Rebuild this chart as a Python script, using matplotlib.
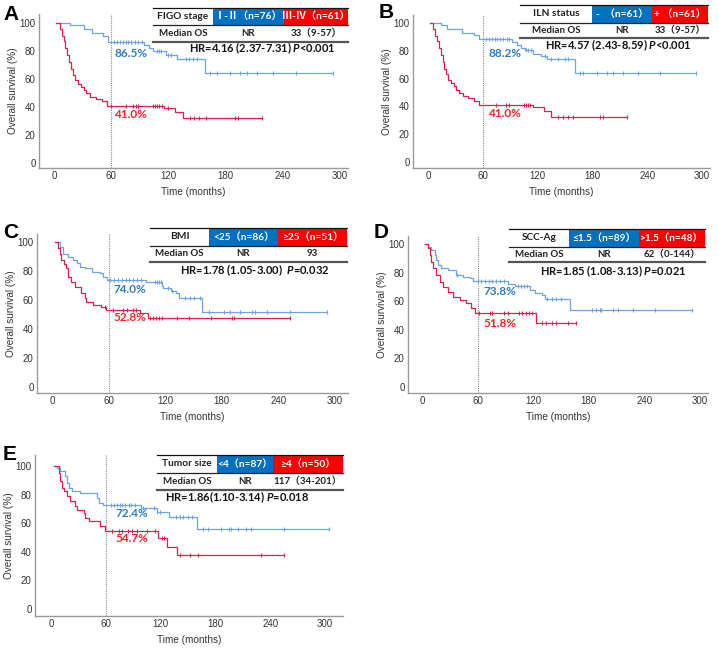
import numpy as np
import matplotlib
matplotlib.use('Agg')
import matplotlib.pyplot as plt
from matplotlib.patches import Rectangle
from matplotlib.lines import Line2D

plt.rcParams['font.family'] = ['Liberation Sans', 'DejaVu Sans']
plt.rcParams['mathtext.fontset'] = 'custom'
plt.rcParams['mathtext.it'] = 'Lato:italic:bold'
plt.rcParams['mathtext.rm'] = 'Lato:bold'

W, H = 719, 649
BLUE_LINE = '#6ea3e6'
RED_LINE = '#e3204c'
BLUE_CELL = '#0070c0'
RED_CELL = '#ff0000'
BLUE_TXT = '#2a7cc7'
RED_TXT = '#ff2020'
TAB_FONT = ['Lato', 'Noto Sans CJK SC', 'DejaVu Sans']

## Data
# A: FIGO stage
a_blue_t = [2, 17, 31, 39.5, 51, 57, 94, 100, 104, 118, 129, 158]
a_blue_s = [100, 98.6, 95.5, 93, 91, 86.5, 84.5, 82, 80, 77.5, 74, 64]
a_blue_end = 293
a_blue_cens = [63, 66, 69, 72, 75, 78, 81, 85, 88, 92, 108, 110, 112, 120, 123,
               138, 142, 146, 150, 164, 171, 185, 195, 202, 213, 230, 254, 293]
a_red_t = [2, 6, 8, 10, 12, 14, 16, 18, 20, 22, 25, 28, 31, 34, 38, 44, 50, 56, 115, 127, 135]
a_red_s = [100, 96, 91, 87, 82, 77, 72, 67, 63, 59, 56.5, 54.5, 52, 50, 47.5, 46, 44, 41, 39.5, 36.5, 32.5]
a_red_end = 218
a_red_cens = [60, 76, 83, 86, 88, 104, 106, 108, 110, 113, 120, 143, 147, 152, 159, 190, 193, 218]

# B: ILN status
b_blue_t = [2, 14, 21, 37.5, 50, 56, 92, 97, 101.5, 106, 115, 124, 130, 161]
b_blue_s = [100, 98.6, 96, 92.6, 91.5, 88.2, 86, 84, 82, 80.5, 78, 76, 74, 64]
b_blue_end = 293
b_blue_cens = [64, 67, 70, 73, 76, 79, 82, 86, 89, 107, 110, 113, 128, 135, 142, 150, 153,
               166, 170, 185, 196, 203, 214, 230, 254, 293]
b_red_t = [2, 6, 8, 10, 12, 14, 16, 18, 20, 22, 25, 28, 31, 34, 38, 44, 50, 56, 115, 127, 135]
b_red_s = [100, 96, 91, 87, 82, 77, 72, 67, 63, 59, 56.5, 54.5, 52, 50, 47.5, 46, 44, 41, 39.5, 36.5, 32.5]
b_red_end = 218
b_red_cens = [74, 85, 89, 105, 107, 109, 112, 142, 148, 153, 159, 188, 192, 218]

# C: BMI
c_blue_t = [3, 8, 11.7, 17, 22, 26, 29.5, 35, 42, 50.5, 54, 58, 100, 117, 118, 126, 131, 135, 159]
c_blue_s = [100, 96.8, 92, 90, 87.6, 85.3, 83, 81.8, 79.5, 78.4, 76, 74, 72.5, 70, 68, 66.5, 64.5, 61.5, 51.5]
c_blue_end = 291
c_blue_cens = [62, 66, 70, 74, 78, 82, 86, 90, 94, 109, 111, 113, 116, 123, 127, 141, 146, 151, 157,
               166, 182, 189, 199, 212, 215, 228, 252, 291]
c_red_t = [3, 6.4, 8, 10, 13, 15, 17, 20.5, 24, 31, 34.6, 36.4, 43.5, 52, 57.6, 93, 102]
c_red_s = [100, 95.6, 92, 87.6, 84.5, 81.8, 76, 72.6, 69, 64.6, 61.2, 58.8, 56.6, 55.4, 52.8, 50.8, 47.5]
c_red_end = 252
c_red_cens = [56, 65, 75, 79, 86, 89, 104, 107, 110, 113, 117, 132, 145, 169, 191, 193, 252]

# D: SCC-Ag
d_blue_t = [3, 6.5, 10, 13.7, 15.5, 17, 20.8, 28, 37, 44, 51.5, 55, 93, 100, 117, 122, 129, 133, 160]
d_blue_s = [100, 98, 95.8, 92.3, 88.8, 85.3, 83, 81.8, 78.3, 77.1, 76, 73.8, 72, 70.3, 67.5, 66, 64, 61.5, 54]
d_blue_end = 291
d_blue_cens = [38, 60, 64, 68, 72, 76, 80, 84, 88, 104, 107, 110, 113, 135, 140, 145, 150,
               183, 188, 192, 193, 206, 211, 228, 251, 291]
d_red_t = [3, 6.5, 8.3, 10, 11.9, 15.5, 19, 22.6, 28, 33.4, 40.6, 47.8, 53.2, 56.8, 123]
d_red_s = [100, 97, 92.3, 87.6, 83, 78.3, 73.6, 70.1, 66.6, 63.1, 60.8, 58.5, 55, 51.8, 44.5]
d_red_end = 166
d_red_cens = [62, 73, 75, 89, 93, 105, 108, 112, 116, 119, 129, 134, 140, 145, 158, 166]

# E: Tumor size
e_blue_t = [3, 6.6, 10, 15.7, 17.5, 19.4, 23, 32, 50, 53, 57, 98, 116, 129, 160]
e_blue_s = [100, 98.6, 96.3, 92.8, 88, 84.6, 82.3, 81.1, 77.6, 74, 72.4, 70.5, 67.5, 64.5, 55.7]
e_blue_end = 304
e_blue_cens = [66, 69, 72, 75, 78, 81, 85, 88, 92, 101, 113, 116, 119, 137, 141, 145, 150, 154,
               166, 172, 186, 195, 197, 205, 214, 219, 255, 304]
e_red_t = [3, 8.4, 10, 12, 14, 17.5, 21, 26.6, 28.4, 35.7, 37.5, 41.3, 54, 59.5, 117.6, 127, 138]
e_red_s = [100, 95, 89.3, 84.6, 82.3, 78.8, 75.3, 71.8, 69.4, 67.1, 63.6, 61.3, 57.8, 54.7, 50, 43.7, 37.8]
e_red_end = 255
e_red_cens = [67, 74.5, 78, 84, 89, 94, 105, 114, 121, 124, 141, 152, 161, 230, 255]

# table texts
letters = ['A', 'B', 'C', 'D', 'E']
tab_head = [['FIGO stage', 'Ⅰ-Ⅱ（n=76）', 'Ⅲ-Ⅳ（n=61）'],
            ['ILN status', '-  （n=61）', '+ （n=61）'],
            ['BMI', '<25（n=86）', '≥25（n=51）'],
            ['SCC-Ag', '≤1.5（n=89）', '>1.5（n=48）'],
            ['Tumor size', '<4（n=87）', '≥4（n=50）']]
tab_os = [['Median OS', 'NR', '33（9-57）'],
          ['Median OS', 'NR', '33（9-57）'],
          ['Median OS', 'NR', '93'],
          ['Median OS', 'NR', '62（0-144）'],
          ['Median OS', 'NR', '117（34-201）']]
hr_text = ['HR=4.16 (2.37-7.31) $P$<0.001',
           'HR=4.57 (2.43-8.59) $P$<0.001',
           'HR=1.78 (1.05-3.00)  $P$=0.032',
           'HR=1.85 (1.08-3.13) $P$=0.021',
           'HR=1.86(1.10-3.14) $P$=0.018']
pct_blue = ['86.5%', '88.2%', '74.0%', '73.8%', '72.4%']
pct_red = ['41.0%', '41.0%', '52.8%', '51.8%', '54.7%']

#-----------------------------------------------------------------------
## Layout (pixels in the 719x649 picture)
# left, right, top, bottom, x(0), x(300), y(100), y(0)
ax_px = [(39, 348, 14, 168, 54, 340, 23, 163),
         (413, 710, 15, 168, 428, 702, 23, 162),
         (37, 348, 234, 393, 52, 335, 242, 387),
         (408, 708, 236, 393, 422, 700, 244, 387),
         (35, 343, 455, 616, 51, 325, 466, 609)]
# left, col1, col2, right, top, mid, bottom
tab_px = [(153, 213, 284, 348, 8, 25, 42),
          (520, 592, 652, 708, 5, 23, 38),
          (150, 209, 278, 347, 228, 246, 262),
          (509, 569, 639, 705, 229, 247, 262),
          (157, 217, 273, 343, 455, 473, 490)]
hr_px = [(262, 48), (618, 45), (255, 270), (613, 271), (237, 497)]
letter_px = [(3, 14), (379, 12), (3, 232), (374, 233), (3, 455)]
# label positions in data units
pct_pos = [((63, 78), (63, 35)), ((66, 78), (66, 35)), ((65, 67), (65, 47.6)),
           ((66, 67), (66, 44.7)), ((71, 67), (71, 49))]

curves = [(a_blue_t, a_blue_s, a_blue_end, a_blue_cens, a_red_t, a_red_s, a_red_end, a_red_cens),
          (b_blue_t, b_blue_s, b_blue_end, b_blue_cens, b_red_t, b_red_s, b_red_end, b_red_cens),
          (c_blue_t, c_blue_s, c_blue_end, c_blue_cens, c_red_t, c_red_s, c_red_end, c_red_cens),
          (d_blue_t, d_blue_s, d_blue_end, d_blue_cens, d_red_t, d_red_s, d_red_end, d_red_cens),
          (e_blue_t, e_blue_s, e_blue_end, e_blue_cens, e_red_t, e_red_s, e_red_end, e_red_cens)]


def fx(px):
    return px / W


def fy(py):
    return 1 - py / H


def km(ax, t, s, end, cens, color):
    t = np.asarray(t, float)
    s = np.asarray(s, float)
    ax.step(np.append(t, end), np.append(s, s[-1]), where='post', color=color, lw=0.9)
    idx = np.searchsorted(t, cens, side='right') - 1
    ax.plot(cens, s[idx], ls='none', marker='|', ms=3.5, mew=0.8, color=color)


def table(fig, box, head, row, hr, hrpos):
    l, c1, c2, r, top, mid, bot = box
    fig.add_artist(Rectangle((fx(c1), fy(mid)), fx(c2) - fx(c1), fy(top) - fy(mid),
                             color=BLUE_CELL, transform=fig.transFigure, lw=0))
    fig.add_artist(Rectangle((fx(c2), fy(mid)), fx(r) - fx(c2), fy(top) - fy(mid),
                             color=RED_CELL, transform=fig.transFigure, lw=0))
    fig.add_artist(Line2D([fx(l), fx(r)], [fy(top), fy(top)], color='#111', lw=0.9,
                          transform=fig.transFigure))
    fig.add_artist(Line2D([fx(l), fx(r)], [fy(mid), fy(mid)], color='#222', lw=0.9,
                          transform=fig.transFigure))
    fig.add_artist(Line2D([fx(l), fx(r)], [fy(bot), fy(bot)], color='#555', lw=1.6,
                          transform=fig.transFigure))
    cx = [(l + c1) / 2, (c1 + c2) / 2, (c2 + r) / 2]
    hy = fy((top + mid) / 2)
    ry = fy((mid + bot) / 2)
    cols = ['#222', 'white', 'white']
    for i in range(3):
        fig.text(fx(cx[i]), hy, head[i], ha='center', va='center', fontsize=7.3,
                 fontweight='bold', color=cols[i], family=TAB_FONT)
        fig.text(fx(cx[i]), ry, row[i], ha='center', va='center', fontsize=7,
                 fontweight='bold', color='#222', family=TAB_FONT)
    fig.text(fx(hrpos[0]), fy(hrpos[1]), hr, ha='center', va='center', fontsize=8,
             fontweight='bold', color='#111', family=TAB_FONT)


#-----------------------------------------------------------------------
## Plot
fig = plt.figure(figsize=(W / 100, H / 100), dpi=100)

for k in range(5):
    left, right, top, bot, x0, x300, y100, y0 = ax_px[k]
    sx = (x300 - x0) / 300.0
    sy = (y0 - y100) / 100.0
    ax = fig.add_axes([fx(left), fy(bot), (right - left) / W, (bot - top) / H])
    ax.set_xlim((left - x0) / sx, (right - x0) / sx)
    ax.set_ylim((y0 - bot) / sy, (y0 - top) / sy)
    for sp in ['top', 'right']:
        ax.spines[sp].set_visible(False)
    for sp in ['left', 'bottom']:
        ax.spines[sp].set_color('#9a9a9a')
        ax.spines[sp].set_linewidth(1.0)
    ax.set_xticks([0, 60, 120, 180, 240, 300])
    ax.set_yticks([0, 20, 40, 60, 80, 100])
    ax.tick_params(length=0, labelsize=7, colors='#333', pad=2.5)
    ax.set_xlabel('Time (months)', fontsize=7.2, color='#333', labelpad=4)
    ax.set_ylabel('Overall survival (%)', fontsize=7.2, color='#333', labelpad=1)
    ax.axvline(60, color='#8a8a8a', ls=(0, (1, 1)), lw=0.8)

    bt, bs, bend, bc, rt, rs, rend, rc = curves[k]
    km(ax, bt, bs, bend, bc, BLUE_LINE)
    km(ax, rt, rs, rend, rc, RED_LINE)

    (bx, by), (rx, ry) = pct_pos[k]
    ax.text(bx, by, pct_blue[k], color=BLUE_TXT, fontsize=8.5, fontweight='bold',
            ha='left', va='center', family=TAB_FONT)
    ax.text(rx, ry, pct_red[k], color=RED_TXT, fontsize=8.5, fontweight='bold',
            ha='left', va='center', family=TAB_FONT)

    table(fig, tab_px[k], tab_head[k], tab_os[k], hr_text[k], hr_px[k])
    fig.text(fx(letter_px[k][0]), fy(letter_px[k][1]), letters[k], fontsize=15,
             fontweight='bold', ha='left', va='center', color='black')

fig.savefig('out.png', dpi=100)
